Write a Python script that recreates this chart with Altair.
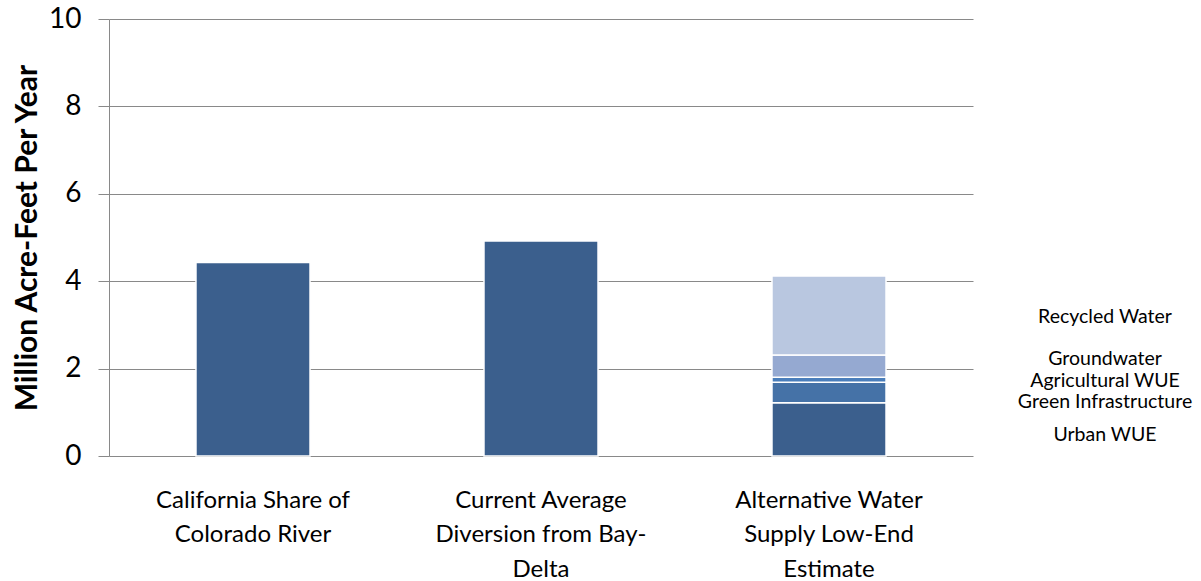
import altair as alt
import pandas as pd

categories = [
    "California Share of Colorado River",
    "Current Average Diversion from Bay-Delta",
    "Alternative Water Supply Low-End Estimate",
]
label_lines = [
    ["California Share of", "Colorado River"],
    ["Current Average", "Diversion from Bay-", "Delta"],
    ["Alternative Water", "Supply Low-End", "Estimate"],
]
single_values = [4.43, 4.92]
components = ["Urban WUE", "Green Infrastructure", "Agricultural WUE", "Groundwater", "Recycled Water"]
component_values = [1.22, 0.47, 0.11, 0.51, 1.81]
component_colors = ["#3B5F8D", "#4572A7", "#4A7EBB", "#95A9D1", "#B9C7E0"]
label_positions = [0.49, 1.23, 1.72, 2.21, 3.18]

rows = []
for c, v in zip(categories[:2], single_values):
    rows.append({"category": c, "component": "Total", "value": v, "order": 0})
for i, (comp, v) in enumerate(zip(components, component_values)):
    rows.append({"category": categories[2], "component": comp, "value": v, "order": i})
df = pd.DataFrame(rows)

labels_df = pd.DataFrame({"component": components, "pos": label_positions})

label_map = "{" + ", ".join(
    "'" + c + "': [" + ", ".join("'" + l + "'" for l in lines) + "]"
    for c, lines in zip(categories, label_lines)
) + "}"

gray = "#898989"

bars = alt.Chart(df).mark_bar(stroke="white", strokeWidth=1.5).encode(
    x=alt.X(
        "category:N",
        sort=categories,
        scale=alt.Scale(paddingInner=0.604, paddingOuter=0.302),
        axis=alt.Axis(
            title=None,
            labelAngle=0,
            labelExpr=label_map + "[datum.label]",
            labelFont="Lato",
            labelFontSize=24,
            labelColor="#000000",
            labelPadding=32,
            labelLineHeight=34.5,
            labelBaseline="top",
            labelLimit=0,
            ticks=False,
            domain=False,
        ),
    ),
    y=alt.Y(
        "value:Q",
        stack="zero",
        scale=alt.Scale(domain=[0, 10]),
        axis=alt.Axis(
            title="Million Acre-Feet Per Year",
            titleFont="Lato",
            titleFontSize=30,
            titleFontWeight="bold",
            titleColor="#000000",
            titlePadding=6,
            values=[0, 2, 4, 6, 8, 10],
            labelFont="Lato",
            labelFontSize=28,
            labelColor="#000000",
            labelPadding=17,
            tickSize=11,
            tickColor=gray,
            domainColor=gray,
            gridColor=gray,
            grid=True,
        ),
    ),
    color=alt.Color(
        "component:N",
        scale=alt.Scale(domain=["Total"] + components, range=[component_colors[0]] + component_colors),
        legend=None,
    ),
    order=alt.Order("order:Q"),
)

texts = alt.Chart(labels_df).mark_text(
    font="Lato", fontSize=19.5, color="#000000", align="center", baseline="middle"
).encode(
    x=alt.value(996),
    y=alt.Y("pos:Q", scale=alt.Scale(domain=[0, 10])),
    text="component:N",
)

chart = alt.layer(bars, texts).properties(
    width=864,
    height=437,
    background="white",
    autosize=alt.AutoSizeParams(type="none"),
    padding={"left": 109, "top": 19, "right": 228, "bottom": 125},
).configure_view(strokeWidth=0, stroke=None)

chart.save("out.html", embed_options={"renderer": "svg", "actions": False})
